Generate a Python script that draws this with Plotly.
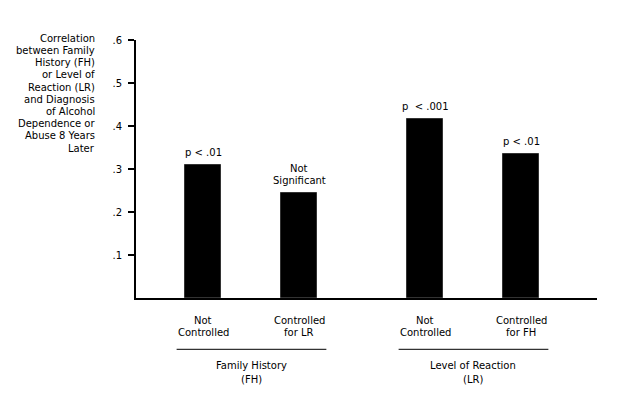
import plotly.graph_objects as go

# ---- data ----
groups = ["Family History<br>(FH)", "Level of Reaction<br>(LR)"]
categories = [["Not<br>Controlled", "Controlled<br>for LR"],
              ["Not<br>Controlled", "Controlled<br>for FH"]]
values = [[0.31, 0.245], [0.417, 0.336]]
p_labels = [["p &lt; .01", "Not<br>Significant"],
            ["p\u00a0 &lt; .001", "p &lt; .01"]]
y_ticks = [0.1, 0.2, 0.3, 0.4, 0.5, 0.6]
y_ticktext = [".1", ".2", ".3", ".4", ".5", ".6"]
y_title_lines = ["Correlation", "between Family", "History (FH)", "or Level of",
                 "Reaction (LR)", "and Diagnosis", "of Alcohol", "Dependence or",
                 "Abuse 8 Years", "Later"]

FONT = "DejaVu Sans"
OFF = 8  # page body margin
W, H = 630 - 2 * OFF, 412 - 2 * OFF
# plot area in window pixels: x 136..597, y 40..298
ML = 136 - OFF
MT = 40 - OFF
MR = W - (597 - OFF)
MB = H - (298 - OFF)
PH = H - MT - MB
PW = W - ML - MR
GAP = 0.3125
X0 = -0.698
X1 = 4.104


def py(pix):
    """window pixel y -> paper y"""
    return (298 - pix) / PH


def px(pix):
    """window pixel x -> paper x"""
    return (pix - 136) / PW


xs, ys = [], []
bar_pos = []
for g, vals in enumerate(values):
    row = []
    for i, v in enumerate(vals):
        x = g * (len(vals) + GAP) + i
        xs.append(x)
        ys.append(v)
        row.append(x)
    bar_pos.append(row)

fig = go.Figure()
fig.add_trace(go.Bar(x=xs, y=ys, width=0.37,
                     marker=dict(color="black", line=dict(color="#333333", width=1)),
                     hoverinfo="skip", showlegend=False))

ann = []
shapes = []
txt = dict(family=FONT, size=10, color="black")
for g in range(len(values)):
    for i, v in enumerate(values[g]):
        x = bar_pos[g][i]
        lines = p_labels[g][i].split("<br>")
        for k, line in enumerate(reversed(lines)):
            ann.append(dict(x=x, y=v, xref="x", yref="y", text=line, showarrow=False,
                            xanchor="center", yanchor="middle", yshift=12 + k * 11.7,
                            font=txt))
        clines = categories[g][i].split("<br>")
        for k, line in enumerate(clines):
            ann.append(dict(x=x, y=py(320.7 + k * 11.6), xref="x", yref="paper",
                            text=line, showarrow=False, xanchor="center",
                            yanchor="middle", font=txt))
    shapes.append(dict(type="line", xref="x", yref="paper",
                       x0=bar_pos[g][0] - 0.275, x1=bar_pos[g][-1] + 0.285,
                       y0=py(349.3), y1=py(349.3),
                       line=dict(color="black", width=1)))
    mid = (bar_pos[g][0] + bar_pos[g][-1]) / 2
    glines = groups[g].split("<br>")
    for k, line in enumerate(glines):
        ann.append(dict(x=mid, y=py(365.7 + k * 13.6), xref="x", yref="paper",
                        text=line, showarrow=False, xanchor="center",
                        yanchor="middle", font=txt))

for k, line in enumerate(y_title_lines):
    ann.append(dict(x=px(97), y=py(38.3 + k * 12.2), xref="paper", yref="paper",
                    text=line, showarrow=False, xanchor="right", yanchor="middle",
                    font=txt))

fig.update_layout(
    width=W, height=H,
    margin=dict(l=ML, r=MR, t=MT, b=MB, pad=0),
    paper_bgcolor="white", plot_bgcolor="white",
    font=txt,
    xaxis=dict(range=[X0, X1], showline=True, linecolor="black", linewidth=2,
               showticklabels=False, ticks="", showgrid=False, zeroline=False,
               fixedrange=True),
    yaxis=dict(range=[0, 0.6], showline=True, linecolor="black", linewidth=2,
               tickvals=y_ticks, ticktext=y_ticktext, ticks="outside", ticklen=6,
               tickwidth=2, tickcolor="black", ticklabelstandoff=4,
               tickfont=dict(family=FONT, size=10, color="black"),
               showgrid=False, zeroline=False, fixedrange=True),
    annotations=ann, shapes=shapes,
    bargap=0,
)

fig.write_html("out.html")
